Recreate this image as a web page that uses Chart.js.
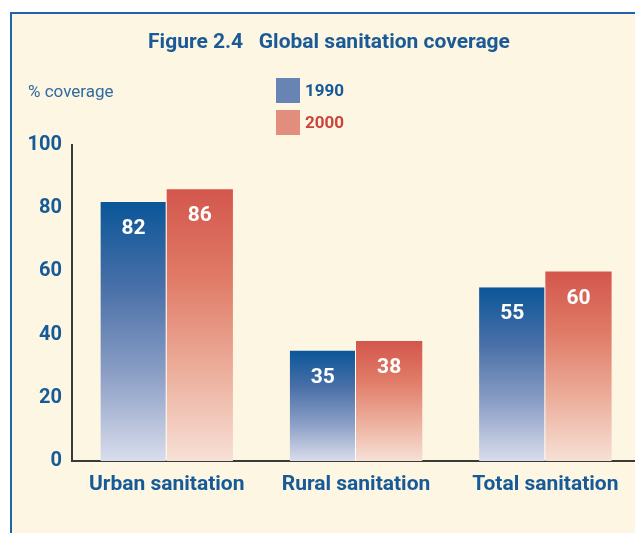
<!DOCTYPE html>
<html>
<head>
<meta charset="utf-8">
<script src="https://cdn.jsdelivr.net/npm/chart.js@4"></script>
<style>
  html, body { margin: 0; padding: 0; background: #fff; overflow: hidden; width: 635px; height: 533px; }
  #frame { position: absolute; left: 10px; top: 12px; width: 640px; height: 540px;
           border-top: 2px solid #1f64ab; border-left: 2px solid #1f64ab; background: #fdf6e3; }
  #wrap { position: absolute; left: 0; top: 0; width: 640px; height: 533px; }
</style>
</head>
<body>
<div id="frame"></div>
<div id="wrap"><canvas id="barChart" width="640" height="533"></canvas></div>
<script>
const categories = ['Urban sanitation', 'Rural sanitation', 'Total sanitation'];
const years = ['1990', '2000'];
const coverage1990 = [82, 35, 55];
const coverage2000 = [86, 38, 60];
const yTicks = [0, 20, 40, 60, 80, 100];

const FONT = 'Roboto, "DejaVu Sans Condensed", sans-serif';
const BLUE_TEXT = '#175a98';
const RED_TEXT = '#c9463d';

// vertical gradient running over each bar from its top to the baseline
function barGradient(stops) {
    return (ctx) => {
        const chart = ctx.chart;
        if (!chart.chartArea || ctx.raw === undefined) return stops[0];
        const y = chart.scales.y;
        const top = y.getPixelForValue(ctx.raw);
        const bottom = y.getPixelForValue(0);
        const g = chart.ctx.createLinearGradient(0, top, 0, bottom);
        stops.forEach((c, i) => g.addColorStop(i / (stops.length - 1), c));
        return g;
    };
}

const decorations = {
    id: 'decorations',
    afterDatasetsDraw(chart) {
        const c = chart.ctx;
        c.save();
        // title
        c.fillStyle = '#1a5a96';
        c.font = 'bold 21px ' + FONT;
        c.textAlign = 'center';
        c.textBaseline = 'middle';
        c.fillText('Figure 2.4   Global sanitation coverage', 329, 43);
        // axis caption
        c.fillStyle = '#2f6ba3';
        c.font = '17px ' + FONT;
        c.textAlign = 'left';
        c.fillText('% coverage', 28, 93);
        // legend
        const legendColors = ['#6784b5', '#e38d7d'];
        const legendText = [BLUE_TEXT, RED_TEXT];
        years.forEach((yr, i) => {
            const top = 78 + i * 32;
            c.fillStyle = legendColors[i];
            c.fillRect(276, top, 24, 25);
            c.fillStyle = legendText[i];
            c.font = 'bold 17px ' + FONT;
            c.fillText(yr, 305, top + 14);
        });
        // value labels inside bars
        c.fillStyle = '#ffffff';
        c.font = 'bold 21px ' + FONT;
        c.textAlign = 'center';
        chart.data.datasets.forEach((ds, di) => {
            chart.getDatasetMeta(di).data.forEach((bar, i) => {
                c.fillText(String(ds.data[i]), bar.x, bar.y + 27);
            });
        });
        c.restore();
    }
};

const ctx = document.getElementById('barChart').getContext('2d');
new Chart(ctx, {
    type: 'bar',
    data: {
        labels: categories,
        datasets: [
            {
                label: years[0],
                data: coverage1990,
                backgroundColor: barGradient(['#0a5699', '#4a70a8', '#8c9fc6', '#d9ddec']),
                borderColor: '#ffffff',
                borderWidth: { top: 0, left: 0, bottom: 0, right: 1 },
                borderSkipped: false
            },
            {
                label: years[1],
                data: coverage2000,
                backgroundColor: barGradient(['#d3564c', '#e07c68', '#ecae9b', '#f7e0d6']),
                borderWidth: 0
            }
        ]
    },
    options: {
        responsive: false,
        animation: false,
        layout: { padding: { top: 145, bottom: 22, left: 0, right: 0 } },
        categoryPercentage: 0.70,
        barPercentage: 1.0,
        plugins: {
            legend: { display: false },
            tooltip: { enabled: false }
        },
        scales: {
            x: {
                grid: { display: false },
                border: { display: true, color: '#3a3a3a', width: 2 },
                ticks: {
                    color: BLUE_TEXT,
                    font: { family: FONT, size: 21, weight: 'bold' },
                    padding: 3,
                    maxRotation: 0,
                    minRotation: 0,
                    autoSkip: false
                },
                afterFit: (s) => { s.height = 50; }
            },
            y: {
                min: 0,
                max: 100,
                afterBuildTicks: (s) => { s.ticks = yTicks.map(v => ({ value: v })); },
                grid: { display: false },
                border: { display: true, color: '#3a3a3a', width: 2 },
                ticks: {
                    color: BLUE_TEXT,
                    font: { family: FONT, size: 20, weight: 'bold' },
                    padding: 2
                },
                afterFit: (s) => { s.width = 72; }
            }
        }
    },
    plugins: [decorations]
});
</script>
</body>
</html>
